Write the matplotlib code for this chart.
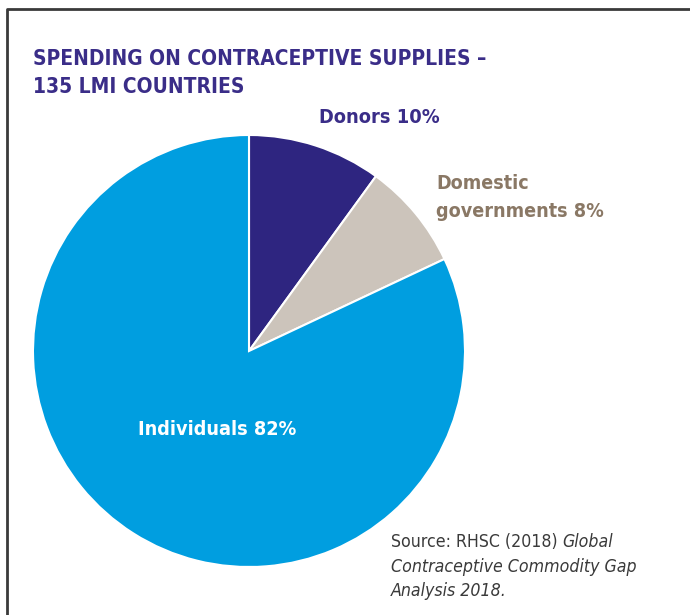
import matplotlib
matplotlib.use("Agg")
import matplotlib.pyplot as plt
from matplotlib import font_manager
from matplotlib.lines import Line2D

# Spending shares on contraceptive supplies (percent)
categories = ["Donors", "Domestic governments", "Individuals"]
shares = [10, 8, 82]
colors = ["#2E2580", "#CCC4BB", "#009EE0"]

title_lines = ["SPENDING ON CONTRACEPTIVE SUPPLIES \u2013", "135 LMI COUNTRIES"]

W, H = 690, 615
fig = plt.figure(figsize=(W / 100, H / 100), dpi=100)
ax = fig.add_axes([0, 0, 1, 1])

# pick a narrow face when one is available
fonts = font_manager.fontManager.ttflist
names = {f.name for f in fonts}
stretch = "normal"
if "Liberation Sans Narrow" in names:
    base = "Liberation Sans Narrow"
else:
    base = "DejaVu Sans"
    if any(f.name == "DejaVu Sans" and str(f.stretch) in ("condensed", "semi-condensed", "600", "500", "700")
           for f in fonts):
        stretch = "condensed"
fam = [base, "DejaVu Sans"]

renderer = fig.canvas.get_renderer()


def fit(txt, width):
    """Scale a text's font size so that it spans the given pixel width."""
    w = txt.get_window_extent(renderer).width
    txt.set_fontsize(txt.get_fontsize() * width / w)
    return txt.get_fontsize()


def y(px):
    return H - px


# pie, centred in pixel space (y measured from the top)
cx, cy, r = 249, 351, 216
ax.pie(shares, colors=colors, startangle=90, counterclock=False,
       center=(cx, y(cy)), radius=r,
       wedgeprops=dict(edgecolor="white", linewidth=1.5))
ax.set_xlim(0, W)
ax.set_ylim(0, H)
ax.set_aspect("auto")
ax.axis("off")

# frame
fig.add_artist(Line2D([7 / W, 7 / W, 1], [0, 1 - 9 / H, 1 - 9 / H],
                      transform=fig.transFigure, color="#3a3a3a", lw=2))

navy = "#3A2D88"
bold = dict(fontweight="bold", family=fam, fontstretch=stretch, ha="left", va="baseline")

t = ax.text(33, y(65), title_lines[0], color=navy, fontsize=15, **bold)
fs = fit(t, 454)
ax.text(33, y(93), title_lines[1], color=navy, fontsize=fs, **bold)

t = ax.text(319, y(123), f"{categories[0]} {shares[0]}%", color=navy, fontsize=14, **bold)
fit(t, 121)

dom_col = "#8A7865"
t1 = ax.text(436, y(189), "Domestic", color=dom_col, fontsize=14, **bold)
t2 = ax.text(436, y(217), f"governments {shares[1]}%", color=dom_col, fontsize=14, **bold)
fs = fit(t2, 168)
t1.set_fontsize(fs)

t = ax.text(138, y(435), f"{categories[2]} {shares[2]}%", color="white", fontsize=14, **bold)
fit(t, 159)

# source note with italic title
src = dict(family=fam, fontstretch=stretch, ha="left", va="baseline", color="#3a3a3a")
s2 = ax.text(391, y(572), "Contraceptive Commodity Gap", fontsize=11.5, style="italic", **src)
fs = fit(s2, 246)
s1 = ax.text(391, y(547), "Source: RHSC (2018) ", fontsize=fs, **src)
ax.annotate("Global", xy=(1, 0), xycoords=s1, fontsize=fs, style="italic",
            family=fam, fontstretch=stretch, ha="left", va="bottom", color="#3a3a3a")
ax.text(391, y(596), "Analysis 2018.", fontsize=fs, style="italic", **src)

fig.savefig("out.png", dpi=100)
